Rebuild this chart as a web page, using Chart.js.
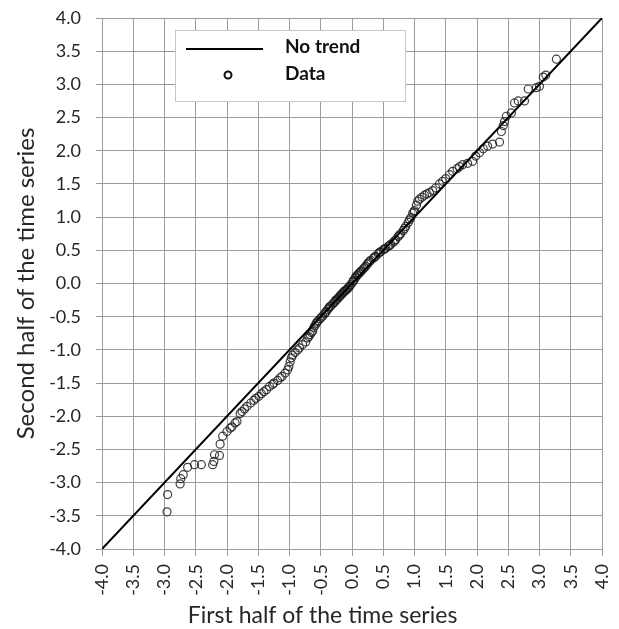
<!DOCTYPE html>
<html>
<head>
<meta charset="utf-8">
<script src="https://cdn.jsdelivr.net/npm/chart.js@4/dist/chart.umd.min.js"></script>
<style>
  html, body { margin: 0; padding: 0; background: #fff; }
  #wrap { width: 619px; height: 629px; }
</style>
</head>
<body>
<div id="wrap"><canvas id="qq"></canvas></div>
<script>
// ligne 1:1 (pas de tendance)
const trendX = [-4, 4];
const trendY = [-4, 4];

// quantiles : premiere moitie (x) contre deuxieme moitie (y)
const firstHalf = [
  -2.96, -2.95, -2.75, -2.74, -2.70, -2.63, -2.52, -2.41, -2.23, -2.21, -2.20, -2.12, -2.11, -2.07,
  -2.00, -1.95, -1.92, -1.87, -1.84, -1.79, -1.76, -1.72, -1.68, -1.62, -1.57, -1.54, -1.49, -1.45,
  -1.41, -1.37, -1.32, -1.27, -1.25, -1.19, -1.15, -1.12, -1.07, -1.03, -1.01, -0.99, -0.97, -0.95,
  -0.91, -0.87, -0.84, -0.79, -0.74, -0.71, -0.69, -0.67, -0.65, -0.63, -0.61, -0.59, -0.57, -0.56,
  -0.54, -0.51, -0.49, -0.47, -0.44, -0.43, -0.41, -0.39, -0.37, -0.36, -0.34, -0.31, -0.29, -0.27,
  -0.26, -0.24, -0.22, -0.20, -0.19, -0.17, -0.16, -0.14, -0.13, -0.11, -0.10, -0.08, -0.07, -0.05,
  -0.04, -0.02, 0.01, 0.02, 0.03, 0.05, 0.06, 0.08, 0.09, 0.11, 0.12, 0.14, 0.15, 0.18, 0.20, 0.22,
  0.24, 0.26, 0.28, 0.30, 0.34, 0.36, 0.38, 0.42, 0.44, 0.46, 0.50, 0.52, 0.54, 0.58, 0.60, 0.62,
  0.66, 0.68, 0.70, 0.74, 0.76, 0.78, 0.82, 0.84, 0.86, 0.90, 0.92, 0.94, 0.97, 0.99, 1.00, 1.03,
  1.05, 1.08, 1.12, 1.16, 1.20, 1.24, 1.29, 1.34, 1.40, 1.45, 1.50, 1.56, 1.61, 1.68, 1.72, 1.77,
  1.85, 1.93, 1.98, 2.04, 2.10, 2.17, 2.25, 2.36, 2.39, 2.42, 2.44, 2.47, 2.55, 2.60, 2.66, 2.76,
  2.82, 2.95, 3.00, 3.06, 3.10, 3.27
];
const secondHalf = [
  -3.44, -3.18, -3.02, -2.94, -2.88, -2.77, -2.73, -2.73, -2.73, -2.68, -2.58, -2.59, -2.42, -2.30,
  -2.23, -2.18, -2.16, -2.10, -2.08, -1.96, -1.93, -1.89, -1.85, -1.80, -1.76, -1.73, -1.70, -1.66,
  -1.63, -1.60, -1.55, -1.52, -1.50, -1.46, -1.42, -1.40, -1.35, -1.30, -1.25, -1.18, -1.12, -1.08,
  -1.04, -1.00, -0.97, -0.92, -0.88, -0.82, -0.80, -0.77, -0.74, -0.72, -0.66, -0.63, -0.60, -0.58,
  -0.56, -0.53, -0.51, -0.49, -0.46, -0.44, -0.42, -0.39, -0.37, -0.35, -0.34, -0.31, -0.29, -0.27,
  -0.25, -0.24, -0.22, -0.20, -0.18, -0.17, -0.15, -0.14, -0.12, -0.11, -0.10, -0.09, -0.07, -0.06,
  -0.04, -0.02, 0.02, 0.04, 0.05, 0.08, 0.10, 0.12, 0.13, 0.15, 0.16, 0.18, 0.19, 0.22, 0.24, 0.26,
  0.29, 0.31, 0.33, 0.35, 0.38, 0.40, 0.41, 0.45, 0.47, 0.48, 0.51, 0.52, 0.53, 0.56, 0.57, 0.59,
  0.62, 0.64, 0.66, 0.71, 0.73, 0.75, 0.80, 0.83, 0.86, 0.92, 0.96, 0.99, 1.06, 1.08, 1.10, 1.18,
  1.24, 1.27, 1.30, 1.33, 1.35, 1.37, 1.40, 1.44, 1.50, 1.54, 1.58, 1.64, 1.69, 1.73, 1.76, 1.79,
  1.81, 1.84, 1.92, 1.97, 2.03, 2.07, 2.10, 2.13, 2.29, 2.38, 2.44, 2.52, 2.57, 2.72, 2.75, 2.75,
  2.93, 2.95, 2.97, 3.11, 3.14, 3.38
];

const seriesNames = ["No trend", "Data"];
const axisMin = -4, axisMax = 4, axisStep = 0.5;

const FONT = "Lato, 'Noto Sans', sans-serif";
const GRID = "#9c9c9c";
const TXT = "#262626";

// legende dessinee a la main dans la zone du graphique
const boxLegend = {
  id: "boxLegend",
  afterDraw(chart) {
    const ctx = chart.ctx;
    const ds = chart.data.datasets;
    ctx.save();
    ctx.fillStyle = "#fff";
    ctx.fillRect(175, 30, 230, 71);
    ctx.strokeStyle = "#c8c8c8";
    ctx.lineWidth = 1;
    ctx.strokeRect(175.5, 30.5, 230, 71);
    // ligne
    ctx.strokeStyle = ds[0].borderColor;
    ctx.lineWidth = 2;
    ctx.beginPath();
    ctx.moveTo(186, 49);
    ctx.lineTo(263, 49);
    ctx.stroke();
    // cercle
    ctx.strokeStyle = "#111";
    ctx.lineWidth = 2;
    ctx.beginPath();
    ctx.arc(228, 75, 3.5, 0, Math.PI * 2);
    ctx.stroke();
    ctx.fillStyle = "#111";
    ctx.font = "bold 19px " + FONT;
    ctx.textBaseline = "middle";
    ctx.fillText(ds[0].label, 285, 47);
    ctx.fillText(ds[1].label, 285, 74);
    ctx.restore();
  }
};

const tickFmt = v => v.toFixed(1);
const halfTicks = s => {
  s.ticks = [];
  for (let v = axisMin; v <= axisMax + 1e-9; v += axisStep) s.ticks.push({ value: +v.toFixed(1) });
};

new Chart(document.getElementById("qq"), {
  type: "scatter",
  data: {
    datasets: [
      {
        type: "line",
        label: seriesNames[0],
        data: trendX.map((x, i) => ({ x: x, y: trendY[i] })),
        borderColor: "#000",
        borderWidth: 2,
        pointRadius: 0,
        fill: false
      },
      {
        label: seriesNames[1],
        data: firstHalf.map((x, i) => ({ x: x, y: secondHalf[i] })),
        pointStyle: "circle",
        pointRadius: 4,
        pointBorderWidth: 1.2,
        borderColor: "rgba(30,30,30,0.85)",
        backgroundColor: "rgba(0,0,0,0)"
      }
    ]
  },
  options: {
    responsive: true,
    maintainAspectRatio: false,
    animation: false,
    layout: { padding: { top: 18, right: 17, left: 0, bottom: 0 } },
    plugins: { legend: { display: false }, tooltip: { enabled: false } },
    scales: {
      x: {
        type: "linear",
        min: axisMin, max: axisMax,
        afterFit: s => { s.height = 80; s.paddingLeft = 0; s.paddingRight = 0; },
        afterBuildTicks: halfTicks,
        grid: { color: GRID, lineWidth: 1, tickLength: 7, tickColor: GRID },
        border: { color: GRID },
        ticks: { callback: tickFmt, maxRotation: 90, minRotation: 90, padding: 8, color: TXT, font: { family: FONT, size: 18 } },
        // espaces insecables : le titre est decale a gauche dans l'original
        title: { display: true, text: "First half of the time series\u00a0\u00a0\u00a0\u00a0\u00a0\u00a0\u00a0\u00a0\u00a0\u00a0", color: TXT, font: { family: FONT, size: 23 }, padding: { top: 0, bottom: 0 } }
      },
      y: {
        type: "linear",
        min: axisMin, max: axisMax,
        afterFit: s => { s.width = 102; s.paddingTop = 0; s.paddingBottom = 0; },
        afterBuildTicks: halfTicks,
        grid: { color: GRID, lineWidth: 1, tickLength: 6, tickColor: GRID },
        border: { color: GRID },
        ticks: { callback: tickFmt, padding: 15, color: TXT, font: { family: FONT, size: 18 } },
        title: { display: true, text: "Second half of the time series", color: TXT, font: { family: FONT, size: 24 }, padding: { top: 12, bottom: 0 } }
      }
    }
  },
  plugins: [boxLegend]
});
</script>
</body>
</html>
